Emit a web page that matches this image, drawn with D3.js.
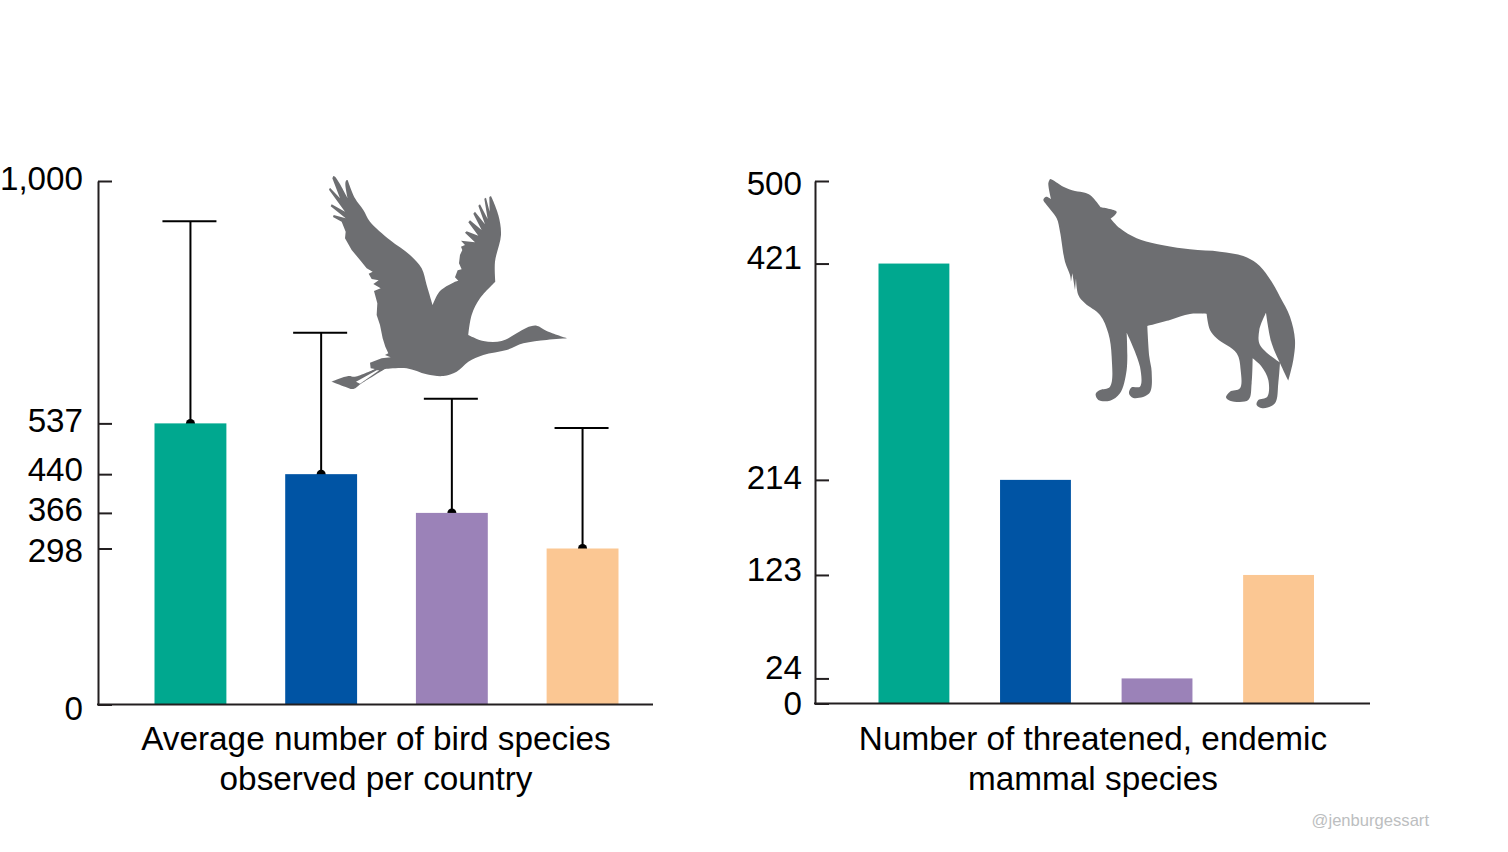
<!DOCTYPE html>
<html>
<head>
<meta charset="utf-8">
<script src="https://d3js.org/d3.v7.min.js"></script>
<style>
html, body { margin: 0; background: #fff; }
svg { display: block; }
text { font-family: "Liberation Sans", Arial, sans-serif; fill: #000; }
</style>
</head>
<body>
<svg id="chart" width="1508" height="852"></svg>
<script>
// the picture has no labels for the four groups
var categories = ["group1", "group2", "group3", "group4"];
var colors = ["#00a88f", "#0054a4", "#9b82b8", "#fbc793"];

var birdValues = [537, 440, 366, 298];
var birdErrorTops = [923, 710, 584, 528];
var birdTicks = [0, 298, 366, 440, 537, 1000];
var birdTitle = ["Average number of bird species", "observed per country"];

var mammalValues = [421, 214, 24, 123];
var mammalTicks = [0, 24, 123, 214, 421, 500];
var mammalTitle = ["Number of threatened, endemic", "mammal species"];

var svg = d3.select("#chart");
var axisColor = "#231f20";
var iconColor = "#6d6e71";

function drawPanel(opt) {
    var x = d3.scaleBand().domain(categories).range(opt.barRange).paddingInner(opt.inner);
    var y = d3.scaleLinear().domain(opt.domain).range([opt.bottom, opt.top]);
    var g = svg.append("g");

    // error bars go under the bars so the dot is cut in half
    if (opt.errors) {
        var err = g.append("g").selectAll("g")
            .data(categories)
            .enter().append("g")
            .attr("transform", function (d) { return "translate(" + (x(d) + x.bandwidth() / 2) + ",0)"; });
        err.append("line")
            .attr("y1", function (d, i) { return y(opt.errors[i]); })
            .attr("y2", function (d, i) { return y(opt.values[i]); })
            .attr("stroke", "#000").attr("stroke-width", 2);
        err.append("line")
            .attr("x1", -28).attr("x2", 26)
            .attr("y1", function (d, i) { return y(opt.errors[i]); })
            .attr("y2", function (d, i) { return y(opt.errors[i]); })
            .attr("stroke", "#000").attr("stroke-width", 2);
        err.append("circle")
            .attr("cy", function (d, i) { return y(opt.values[i]); })
            .attr("r", 4.5).attr("fill", "#000");
    }

    g.selectAll("rect")
        .data(opt.values)
        .enter().append("rect")
        .attr("x", function (d, i) { return x(categories[i]); })
        .attr("width", x.bandwidth())
        .attr("y", function (d) { return y(d); })
        .attr("height", function (d) { return y(0) - y(d); })
        .attr("fill", function (d, i) { return colors[i]; });

    var axis = d3.axisLeft(y)
        .tickValues(opt.ticks)
        .tickFormat(d3.format(","))
        .tickSizeInner(-14)
        .tickSizeOuter(0)
        .tickPadding(opt.labelPad);
    var axisG = g.append("g")
        .attr("transform", "translate(" + opt.axisX + ",0)")
        .call(axis);
    axisG.select(".domain").attr("stroke", axisColor).attr("stroke-width", 2);
    axisG.selectAll(".tick line").attr("stroke", axisColor).attr("stroke-width", 2);
    axisG.selectAll(".tick text")
        .attr("font-size", 33.2)
        .style("font-family", '"Liberation Sans", Arial, sans-serif')
        .attr("fill", "#000")
        .attr("dy", function (d) { return (opt.labelNudge[d] || 0) + 11; });

    g.append("line")
        .attr("x1", opt.axisX - 1).attr("x2", opt.axisEnd)
        .attr("y1", y(0)).attr("y2", y(0))
        .attr("stroke", axisColor).attr("stroke-width", 2);

    g.selectAll("text.title")
        .data(opt.title)
        .enter().append("text")
        .attr("class", "title")
        .attr("x", opt.titleX)
        .attr("y", function (d, i) { return 750 + i * 40; })
        .attr("text-anchor", "middle")
        .attr("font-size", 33.3)
        .text(function (d) { return d; });
}

drawPanel({
    values: birdValues, errors: birdErrorTops, ticks: birdTicks, title: birdTitle,
    domain: [0, 1000], top: 181, bottom: 704.5,
    barRange: [154.5, 618.5], inner: 0.45,
    axisX: 98, axisEnd: 653, titleX: 376, labelPad: 15,
    labelNudge: { 1000: -3, 537: -3, 440: -5, 366: -3, 298: 2, 0: 4 }
});

drawPanel({
    values: mammalValues, errors: null, ticks: mammalTicks, title: mammalTitle,
    domain: [0, 500], top: 181, bottom: 703.5,
    barRange: [878.5, 1314], inner: 0.417,
    axisX: 815, axisEnd: 1370, titleX: 1093, labelPad: 13,
    labelNudge: { 500: 2, 421: -6, 214: -2, 123: -5, 24: -11, 0: 0 }
});

// silhouettes: outlines are broken into smooth runs, the joins stay sharp corners
function outline(runs) {
    var line = d3.line().curve(d3.curveCatmullRom.alpha(0.5));
    return runs.map(function (run, i) {
        var s = line(run);
        return i ? "L" + s.slice(1) : s;
    }).join("") + "Z";
}

var birdRuns = [
    [[40, 33], [46, 36], [83, 100]],
    [[83, 100], [76, 58], [78, 47], [83, 45]],
    [[83, 45], [105, 100], [130, 135], [150, 170], [210, 225], [270, 270], [305, 310], [320, 360], [338, 420]],
    [[338, 420], [360, 378], [405, 350]],
    ...d3.pairs([[405, 350], [415, 347], [405, 337], [413, 316], [425, 313], [417, 295],
        [420, 270], [427, 255], [423, 245], [435, 240], [423, 227], [465, 232],
        [435, 203], [440, 199], [475, 212], [445, 172], [450, 166], [485, 195],
        [460, 146], [465, 140], [495, 178], [475, 122], [480, 118], [503, 162],
        [493, 101], [498, 98], [509, 140], [508, 96], [513, 93]]),
    [[513, 93], [535, 150], [543, 210], [525, 290], [526, 350]],
    [[526, 350], [480, 400], [455, 450], [445, 510]],
    [[445, 510], [490, 528], [545, 528], [590, 505], [620, 488], [650, 482], [680, 498], [742, 520]],
    [[742, 520], [680, 525], [610, 535], [560, 555], [490, 570], [445, 590], [410, 620], [370, 633], [320, 628], [260, 610], [195, 612]],
    [[195, 612], [125, 655], [100, 672], [75, 665], [35, 650]],
    [[35, 650], [85, 633], [105, 635], [165, 612]],
    ...d3.pairs([[165, 612], [152, 610], [150, 593], [185, 580], [212, 577], [195, 570], [205, 565],
        [196, 545], [188, 520], [180, 480], [170, 450], [172, 415], [162, 378], [182, 370],
        [160, 357], [176, 346], [155, 342], [146, 326], [158, 320], [140, 310], [120, 285],
        [95, 255], [75, 220], [77, 200], [65, 170], [39, 156], [41, 150], [77, 160],
        [32, 124], [35, 118], [75, 140], [27, 74], [30, 68], [60, 100], [37, 40], [40, 33]])
];
var birdGap = "M108,650L170,616L178,616L120,656Z";

var wolfRuns = [
    [[60, 27], [68, 30], [100, 50], [135, 63], [165, 68], [180, 75], [195, 90], [212, 112]],
    [[212, 112], [260, 125], [255, 135], [242, 146]],
    [[242, 146], [270, 175], [320, 205], [380, 222], [480, 238], [570, 245], [640, 258], [680, 280], [715, 320], [750, 380], [780, 440], [795, 510], [790, 570], [775, 632]],
    [[775, 632], [755, 590], [725, 520], [708, 428]],
    [[708, 428], [688, 480], [690, 525], [750, 578]],
    [[750, 578], [745, 640], [735, 700], [700, 715], [680, 705], [685, 690], [712, 680], [715, 630], [695, 590], [668, 565]],
    [[668, 565], [665, 640], [655, 690], [600, 692], [588, 682], [600, 665], [630, 655], [632, 600], [620, 550], [560, 505], [540, 480], [530, 432]],
    [[530, 432], [480, 432], [420, 450], [352, 468]],
    [[352, 468], [358, 560], [365, 605], [358, 670], [310, 684], [297, 670], [305, 652], [330, 650], [330, 590], [290, 488]],
    [[290, 488], [290, 600], [270, 670], [240, 692], [205, 690], [197, 672], [210, 660], [240, 650], [245, 560], [235, 490], [210, 435], [165, 400], [145, 375], [138, 325]],
    [[138, 325], [135, 360]],
    [[135, 360], [127, 310]],
    [[127, 310], [123, 335]],
    [[123, 335], [120, 315], [105, 275], [90, 185], [80, 145], [50, 105], [40, 90], [48, 80], [63, 87]],
    [[63, 87], [55, 40], [60, 27]]
];

svg.append("path")
    .attr("d", outline(birdRuns) + birdGap)
    .attr("fill-rule", "evenodd")
    .attr("fill", iconColor)
    .attr("transform", "translate(320,165) scale(0.3333)");

svg.append("path")
    .attr("d", outline(wolfRuns))
    .attr("fill", iconColor)
    .attr("transform", "translate(1030,170) scale(0.3333)");

svg.append("text")
    .attr("x", 1429).attr("y", 826)
    .attr("text-anchor", "end")
    .attr("font-size", 16.6)
    .style("fill", "#bcbec0")
    .text("@jenburgessart");
</script>
</body>
</html>
